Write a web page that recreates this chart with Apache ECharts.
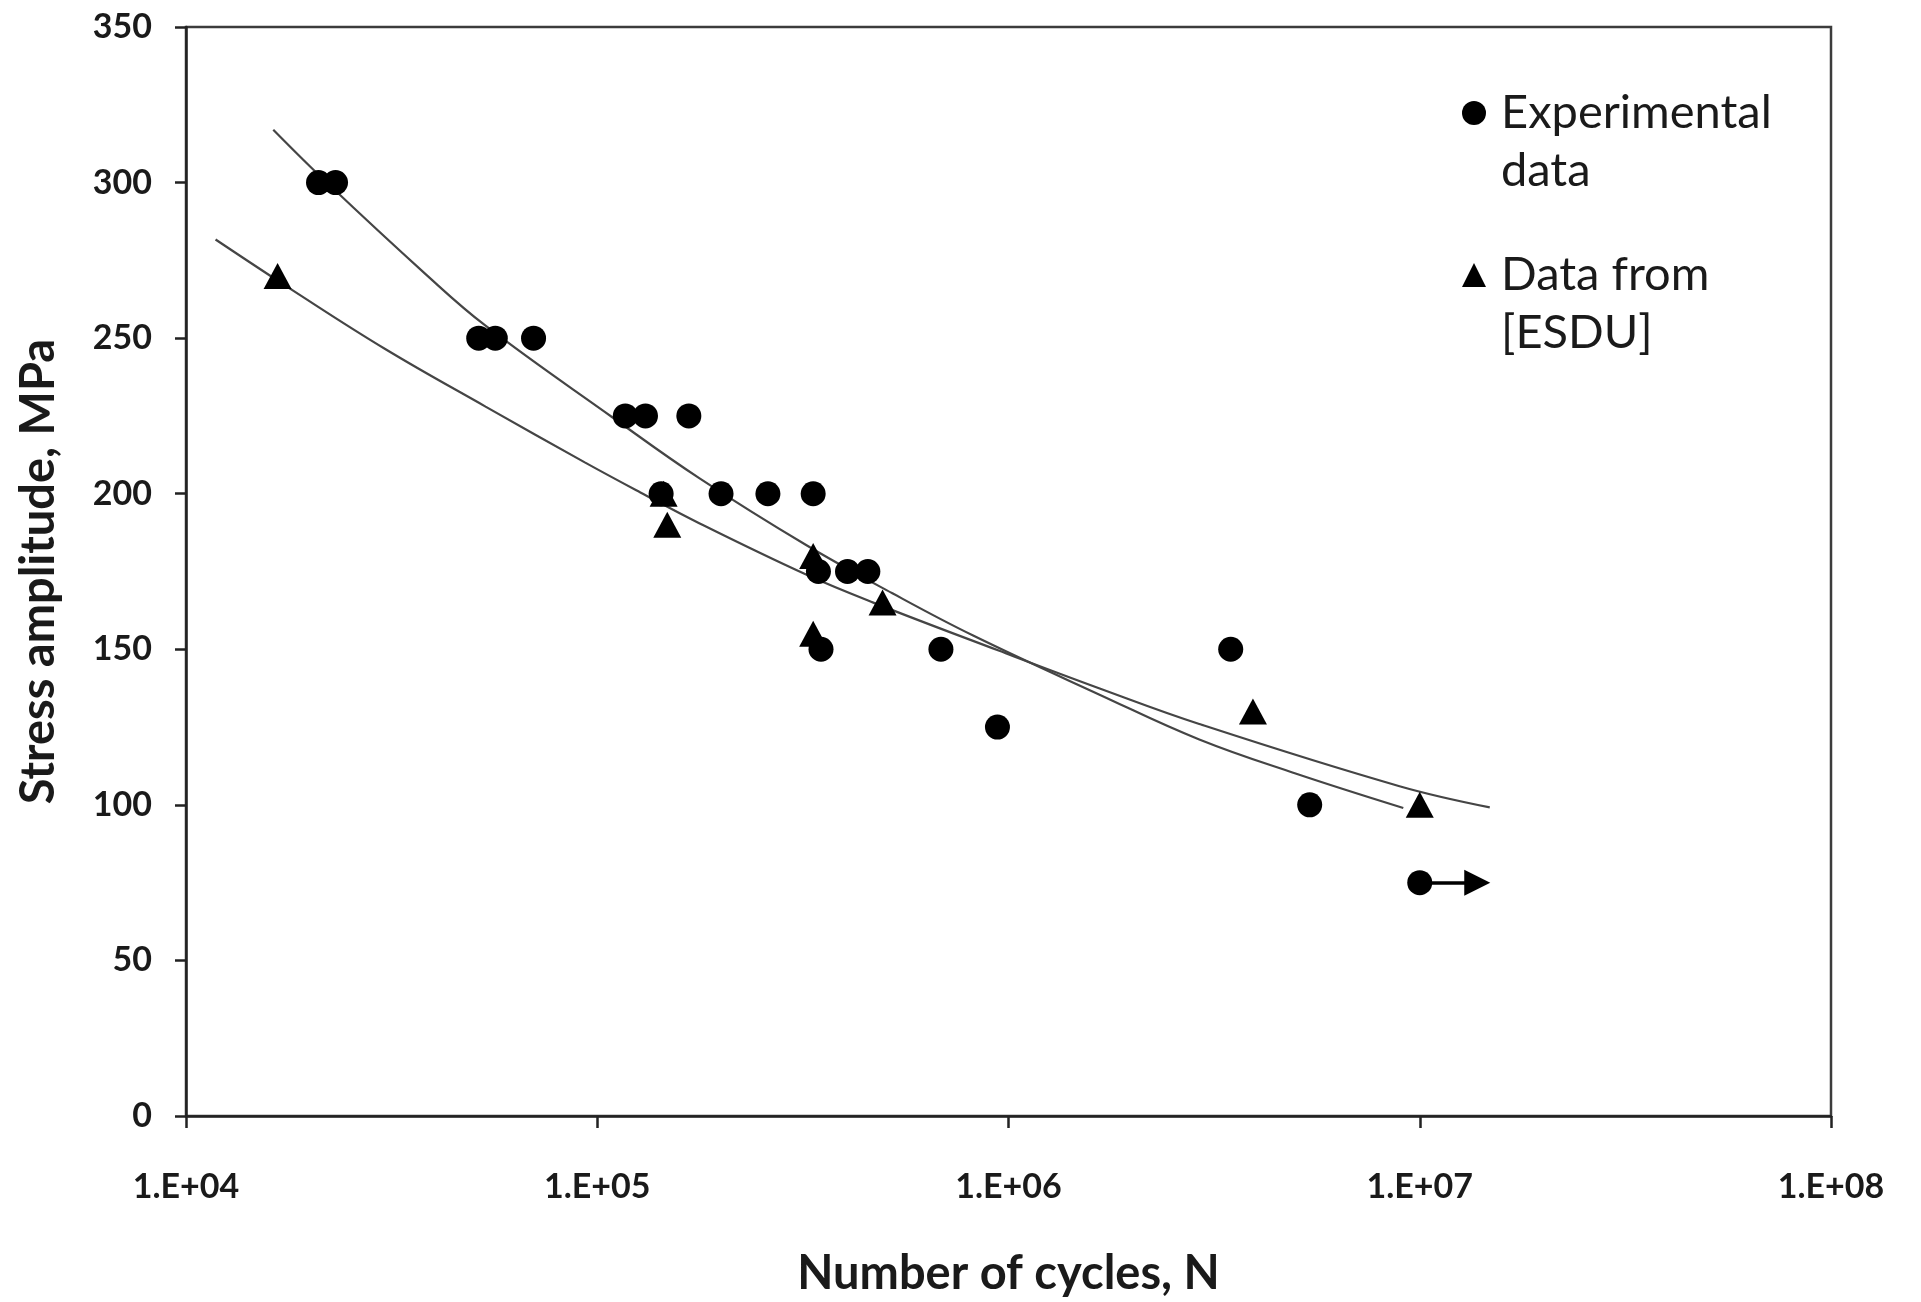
<!DOCTYPE html>
<html>
<head>
<meta charset="utf-8">
<script src="https://cdn.jsdelivr.net/npm/echarts@6/dist/echarts.min.js"></script>
<style>
  html, body { margin: 0; padding: 0; background: #ffffff; }
  #chart { width: 1921px; height: 1302px; }
</style>
</head>
<body>
<div id="chart"></div>
<script>
// ---- Data ----
// Experimental data (circles)
const expN = [2.10e4, 2.31e4, 5.15e4, 5.65e4, 7.0e4, 1.17e5, 1.31e5, 1.67e5, 1.43e5, 2.0e5, 2.6e5, 3.35e5, 3.45e5, 4.06e5, 4.55e5, 3.5e5, 6.85e5, 3.47e6, 9.4e5, 5.4e6, 1.0e7];
const expS = [300, 300, 250, 250, 250, 225, 225, 225, 200, 200, 200, 200, 175, 175, 175, 150, 150, 150, 125, 100, 75];

// Data from [ESDU] (triangles)
const esduN = [1.67e4, 1.45e5, 1.48e5, 3.35e5, 3.35e5, 4.94e5, 3.93e6, 1.0e7];
const esduS = [270, 200, 190, 180, 155, 165, 130, 100];

const expFitN = [1.63e4, 2.20e4, 3.83e4, 5.35e4, 1.09e5, 1.77e5, 3.22e5, 5.22e5, 8.18e5, 1.66e6, 2.91e6, 5.01e6, 9.12e6];
const expFitS = [317, 300, 270.5, 254, 224.5, 205, 183.5, 168, 154.5, 135.5, 121, 110, 99];

// Trend curve through ESDU data
const esduFitN = [1.18e4, 1.81e4, 3.05e4, 5.35e4, 9.35e4, 1.27e5, 1.77e5, 3.22e5, 4.69e5, 9.5e5, 1.66e6, 2.91e6, 8.93e6, 1.48e7];
const esduFitS = [281.7, 265.5, 246.5, 228, 210, 200.5, 190.5, 174, 165, 149.5, 137.5, 126, 106, 99.2];

// Run-out arrow (specimen not failed)
const arrowFrom = [1.0e7, 75];
const arrowTo = [1.38e7, 75];

// Axis ticks
const xTickLabels = ['1.E+04', '1.E+05', '1.E+06', '1.E+07', '1.E+08'];
const xMin = 1e4, xMax = 1e8;
const yMin = 0, yMax = 350, yStep = 50;

const legendNames = ['Experimental data', 'Data from [ESDU]'];
const legendTexts = [' \nExperimental\ndata', ' \nData from\n[ESDU]'];

const zip = (a, b) => a.map((v, i) => [v, b[i]]);

const FONT = 'Lato';
const chart = echarts.init(document.getElementById('chart'));

const legendCommon = {
  orient: 'vertical',
  left: 1462,
  padding: 0,
  itemWidth: 24,
  itemHeight: 24,
  textStyle: {
    fontFamily: FONT,
    fontSize: 47,
    lineHeight: 58,
    color: '#1a1a1a',
    padding: [0, 0, 0, 10]
  },
  formatter: name => legendTexts[legendNames.indexOf(name)]
};

chart.setOption({
  backgroundColor: '#ffffff',
  animation: false,
  grid: {
    left: 186, right: 90, top: 27, bottom: 184,
    show: true, borderColor: '#3c3c3c', borderWidth: 2.5,
    backgroundColor: 'transparent'
  },
  legend: [
    Object.assign({}, legendCommon, { top: 26, data: [{ name: legendNames[0], icon: 'circle', itemStyle: { color: '#000', opacity: 1 } }] }),
    Object.assign({}, legendCommon, { top: 188, data: [{ name: legendNames[1], icon: 'triangle', itemStyle: { color: '#000', opacity: 1 } }] })
  ],
  xAxis: {
    type: 'log',
    logBase: 10,
    min: xMin,
    max: xMax,
    name: 'Number of cycles, N',
    nameLocation: 'middle',
    nameGap: 134,
    nameTextStyle: { fontFamily: FONT, fontSize: 47, fontWeight: 'bold', color: '#1a1a1a' },
    axisLine: { show: true, lineStyle: { color: '#222222', width: 2.5 } },
    axisTick: { show: true, inside: false, length: 12, lineStyle: { color: '#222222', width: 2.5 } },
    minorTick: { show: false },
    splitLine: { show: false },
    axisLabel: {
      margin: 54,
      fontFamily: FONT, fontSize: 34, fontWeight: 'bold', color: '#1a1a1a',
      formatter: v => {
        const i = Math.round(Math.log10(v) - Math.log10(xMin));
        return xTickLabels[i] !== undefined ? xTickLabels[i] : '';
      }
    }
  },
  yAxis: {
    type: 'value',
    min: yMin,
    max: yMax,
    interval: yStep,
    name: 'Stress amplitude, MPa',
    nameLocation: 'middle',
    nameRotate: 90,
    nameGap: 124,
    nameTextStyle: { fontFamily: FONT, fontSize: 47, fontWeight: 'bold', color: '#1a1a1a' },
    axisLine: { show: true, lineStyle: { color: '#222222', width: 2.5 } },
    axisTick: { show: true, inside: false, length: 11, lineStyle: { color: '#222222', width: 2.5 } },
    splitLine: { show: false },
    axisLabel: {
      margin: 34,
      fontFamily: FONT, fontSize: 34, fontWeight: 'bold', color: '#1a1a1a'
    }
  },
  series: [
    {
      name: 'expFit',
      type: 'line',
      data: zip(expFitN, expFitS),
      smooth: 0.4,
      showSymbol: false,
      symbol: 'none',
      lineStyle: { color: '#454545', width: 2.2 },
      silent: true,
      z: 2
    },
    {
      name: 'esduFit',
      type: 'line',
      data: zip(esduFitN, esduFitS),
      smooth: 0.4,
      showSymbol: false,
      symbol: 'none',
      lineStyle: { color: '#454545', width: 2.2 },
      silent: true,
      z: 2
    },
    {
      name: legendNames[0],
      type: 'scatter',
      symbol: 'circle',
      symbolSize: 25,
      itemStyle: { color: '#000000', opacity: 1 },
      data: zip(expN, expS),
      z: 4,
      markLine: {
        silent: true,
        animation: false,
        symbol: ['none', 'triangle'],
        symbolSize: 26,
        label: { show: false },
        emphasis: { disabled: true },
        lineStyle: { color: '#000000', width: 3.5, type: 'solid', opacity: 1 },
        itemStyle: { color: '#000000' },
        data: [[{ coord: arrowFrom }, { coord: arrowTo }]]
      }
    },
    {
      name: legendNames[1],
      type: 'scatter',
      symbol: 'triangle',
      symbolSize: [28, 26],
      itemStyle: { color: '#000000', opacity: 1 },
      data: zip(esduN, esduS),
      z: 5
    }
  ]
});
</script>
</body>
</html>
